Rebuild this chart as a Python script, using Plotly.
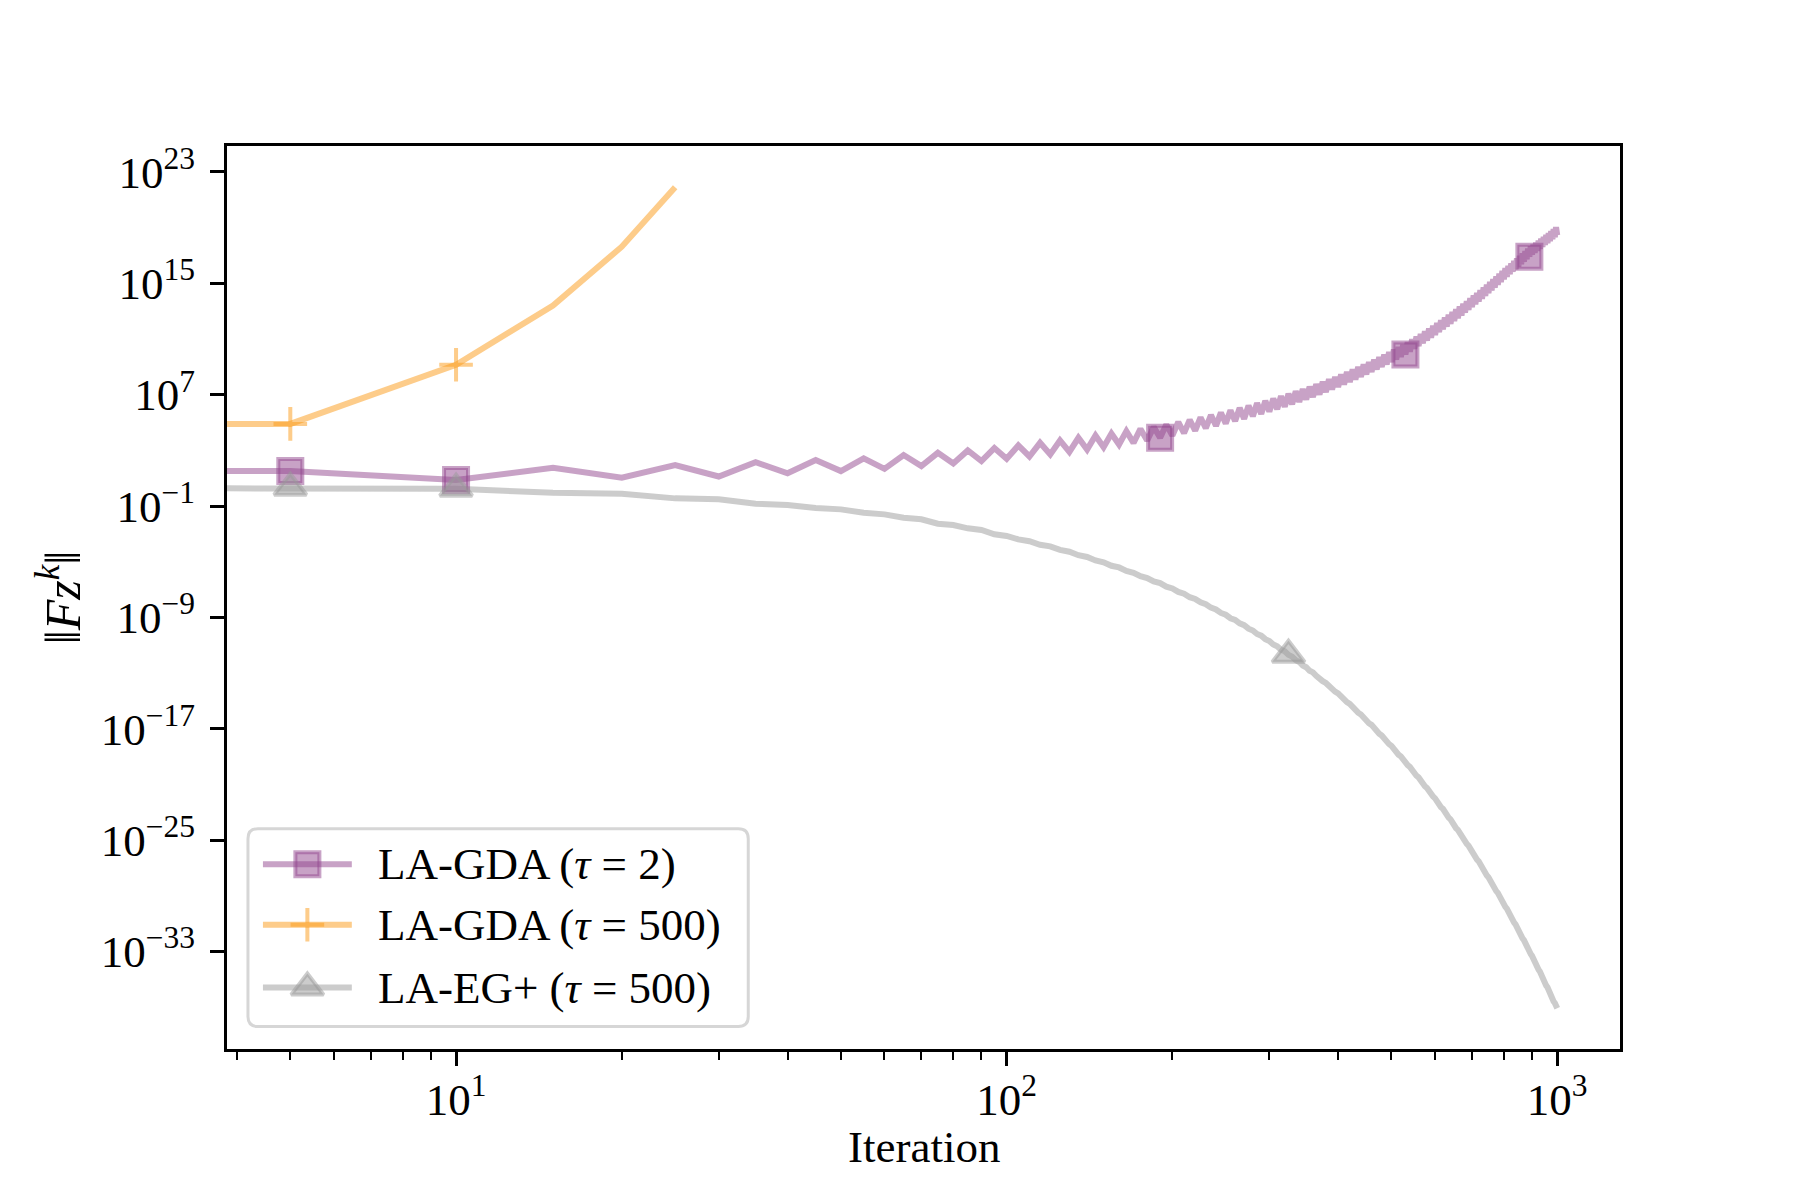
import numpy as np
import plotly.graph_objects as go

# iteration counter (every 5th iterate is logged)
iters = list(range(0, 1001, 5))

# log10 ||F z^k||
gda2_log = [
    1.51, 1.51, 0.87, 1.75, 1.03, 1.94, 1.12, 2.15, 1.35, 2.30,
    1.51, 2.42, 1.67, 2.66, 1.87, 2.82, 2.06, 2.99, 2.23, 3.16,
    2.39, 3.35, 2.56, 3.54, 2.71, 3.71, 2.89, 3.90, 3.06, 4.07,
    3.23, 4.21, 3.42, 4.38, 3.54, 4.54, 3.71, 4.68, 3.90, 4.85,
    4.07, 5.03, 4.24, 5.19, 4.41, 5.36, 4.59, 5.54, 4.76, 5.71,
    4.93, 5.87, 5.10, 6.04, 5.27, 6.21, 5.45, 6.39, 5.62, 6.56,
    5.79, 6.72, 5.96, 6.89, 6.13, 7.06, 6.31, 7.24, 6.48, 7.40,
    6.65, 7.57, 6.83, 7.75, 7.01, 7.93, 7.19, 8.10, 7.37, 8.28,
    7.55, 8.46, 7.73, 8.64, 7.91, 8.81, 8.09, 8.99, 8.27, 9.17,
    8.45, 9.34, 8.63, 9.52, 8.81, 9.70, 8.99, 9.88, 9.17, 10.05,
    9.35, 10.23, 9.53, 10.41, 9.71, 10.58, 9.89, 10.77, 10.09, 10.97,
    10.29, 11.17, 10.49, 11.36, 10.69, 11.56, 10.89, 11.76, 11.09, 11.95,
    11.29, 12.15, 11.49, 12.35, 11.69, 12.54, 11.89, 12.74, 12.09, 12.94,
    12.29, 13.13, 12.49, 13.33, 12.69, 13.53, 12.89, 13.72, 13.09, 13.92,
    13.29, 14.12, 13.49, 14.31, 13.69, 14.51, 13.89, 14.71, 14.09, 14.90,
    14.29, 15.10, 14.49, 15.30, 14.69, 15.49, 14.89, 15.69, 15.09, 15.89,
    15.29, 16.08, 15.47, 16.25, 15.65, 16.43, 15.83, 16.61, 16.01, 16.78,
    16.19, 16.96, 16.37, 17.14, 16.55, 17.31, 16.73, 17.49, 16.91, 17.65,
    17.05, 17.78, 17.19, 17.92, 17.33, 18.06, 17.47, 18.20, 17.61, 18.33,
    17.75, 18.47, 17.89, 18.61, 18.03, 18.75, 18.17, 18.89, 18.31, 19.03,
    18.45,
]

# tau=500 GDA blows up (overflow after iteration 25)
gda500_iters = [0, 5, 10, 15, 20, 25]
gda500_log = [4.90, 4.90, 9.15, 13.40, 17.63, 21.90]

eg500_log = [
    0.31, 0.31, 0.24, -0.05, -0.12, -0.45, -0.52, -0.83, -0.93, -1.14,
    -1.24, -1.48, -1.60, -1.84, -1.95, -2.27, -2.36, -2.60, -2.72, -3.03,
    -3.15, -3.40, -3.53, -3.78, -3.90, -4.15, -4.28, -4.53, -4.66, -4.91,
    -5.04, -5.29, -5.41, -5.66, -5.79, -6.04, -6.17, -6.42, -6.54, -6.79,
    -6.92, -7.17, -7.30, -7.55, -7.67, -7.92, -8.05, -8.30, -8.43, -8.68,
    -8.81, -9.06, -9.18, -9.43, -9.56, -9.81, -9.94, -10.19, -10.31, -10.56,
    -10.69, -10.94, -11.07, -11.32, -11.44, -11.69, -11.82, -12.07, -12.20, -12.45,
    -12.58, -12.83, -12.95, -13.20, -13.33, -13.58, -13.71, -13.96, -14.08, -14.33,
    -14.46, -14.71, -14.84, -15.09, -15.21, -15.46, -15.59, -15.84, -15.97, -16.22,
    -16.35, -16.60, -16.72, -16.97, -17.10, -17.35, -17.48, -17.73, -17.85, -18.10,
    -18.23, -18.48, -18.61, -18.86, -18.98, -19.23, -19.36, -19.61, -19.74, -19.99,
    -20.12, -20.37, -20.49, -20.74, -20.87, -21.12, -21.25, -21.50, -21.62, -21.87,
    -22.00, -22.25, -22.38, -22.63, -22.75, -23.00, -23.13, -23.38, -23.51, -23.76,
    -23.89, -24.14, -24.26, -24.51, -24.64, -24.89, -25.02, -25.27, -25.39, -25.64,
    -25.77, -26.02, -26.15, -26.40, -26.52, -26.77, -26.90, -27.15, -27.28, -27.53,
    -27.66, -27.91, -28.03, -28.28, -28.41, -28.66, -28.79, -29.04, -29.16, -29.41,
    -29.54, -29.79, -29.92, -30.17, -30.29, -30.54, -30.67, -30.92, -31.05, -31.30,
    -31.43, -31.68, -31.80, -32.05, -32.18, -32.43, -32.56, -32.81, -32.93, -33.18,
    -33.31, -33.56, -33.69, -33.94, -34.06, -34.31, -34.44, -34.69, -34.82, -35.07,
    -35.20, -35.45, -35.57, -35.82, -35.95, -36.20, -36.33, -36.58, -36.70, -36.95,
    -37.08,
]

# iterations where markers were drawn (markevery)
gda2_marks = [5, 10, 190, 530, 890]
gda500_marks = [5, 10]
eg500_marks = [5, 10, 325]

y_tick_exps = [-33, -25, -17, -9, -1, 7, 15, 23]
x_tick_exps = [1, 2, 3]

FONT = "Liberation Serif"
FS = 45

# axes box on the page (px): left, right, top, bottom
AX_L, AX_R, AX_T, AX_B = 225, 1620, 144, 1050


def px(X):
    return (X - AX_L) / (AX_R - AX_L)


def py(Y):
    return (AX_B - Y) / (AX_B - AX_T)


def xpos(its):
    # iteration 0 can't sit on a log axis; matplotlib clips it off the left edge
    return [1 if i == 0 else i for i in its]


series = [
    dict(name="LA-GDA (<i>τ</i> = 2)", its=iters, logs=gda2_log, marks=gda2_marks,
         rgb=(145, 69, 141), symbol="square", size=24),
    dict(name="LA-GDA (<i>τ</i> = 500)", its=gda500_iters, logs=gda500_log, marks=gda500_marks,
         rgb=(251, 153, 21), symbol="cross-thin", size=24),
    dict(name="LA-EG+ (<i>τ</i> = 500)", its=iters, logs=eg500_log, marks=eg500_marks,
         rgb=(153, 153, 153), symbol="triangle-up", size=28),
]

fig = go.Figure()

for s in series:
    c = "rgba(%d,%d,%d,0.5)" % s["rgb"]
    y = 10.0 ** np.array(s["logs"])
    fig.add_trace(go.Scatter(x=xpos(s["its"]), y=y, mode="lines",
                             line=dict(color=c, width=6), showlegend=False,
                             hoverinfo="skip"))

for s in series:
    c = "rgba(%d,%d,%d,0.5)" % s["rgb"]
    idx = [s["its"].index(m) for m in s["marks"]]
    my = [10.0 ** s["logs"][j] for j in idx]
    s["mk"] = dict(symbol=s["symbol"], size=s["size"], color=c, line=dict(color=c, width=4))
    fig.add_trace(go.Scatter(x=s["marks"], y=my, mode="markers", marker=s["mk"],
                             showlegend=False))

# hand-drawn legend (matplotlib style: rounded frame, long handles, full-size markers)
bx0, bx1, by0, by1 = px(246), px(747), py(1027.5), py(829)
rx, ry = 10 / (AX_R - AX_L), 10 / (AX_B - AX_T)
frame = ("M {a},{b} L {c},{b} Q {x1},{b0} {x1},{d} L {x1},{e} Q {x1},{b1} {c},{f} "
         "L {a},{f} Q {x0},{b1} {x0},{e} L {x0},{d} Q {x0},{b0} {a},{b} Z").format(
    a=bx0 + rx, b=by0, c=bx1 - rx, d=by0 + ry, e=by1 - ry, f=by1,
    x0=bx0, x1=bx1, b0=by0, b1=by1)
fig.add_shape(type="path", path=frame, xref="paper", yref="paper", layer="below",
              fillcolor="rgba(255,255,255,0.8)", line=dict(color="#d6d6d6", width=3))

row_y = [864.6, 925.3, 988.4]
for s, ry_px in zip(series, row_y):
    c = "rgba(%d,%d,%d,0.5)" % s["rgb"]
    yy = py(ry_px)
    fig.add_trace(go.Scatter(x=[px(261), px(350)], y=[yy, yy], mode="lines",
                             line=dict(color=c, width=6), xaxis="x2", yaxis="y2",
                             showlegend=False, hoverinfo="skip"))
    fig.add_trace(go.Scatter(x=[px(305.5)], y=[yy], mode="markers", marker=s["mk"],
                             xaxis="x2", yaxis="y2", showlegend=False, hoverinfo="skip"))
    fig.add_annotation(text=s["name"], xref="paper", yref="paper", x=px(374), y=yy,
                       xanchor="left", yanchor="middle", showarrow=False,
                       font=dict(family=FONT, size=FS, color="black"))

fig.update_xaxes(
    type="log", range=[0.584, 3.114],
    tickvals=[10 ** e for e in x_tick_exps],
    ticktext=["10<sup>%d</sup>" % e for e in x_tick_exps],
    minor=dict(ticks="outside", ticklen=8, tickwidth=2.4, tickcolor="black",
               tickvals=[m * 10 ** d for d in range(0, 4) for m in range(2, 10)]),
    ticks="outside", ticklen=14, tickwidth=3, tickcolor="black",
    ticklabelstandoff=-5,
    showline=True, linewidth=3, linecolor="black", mirror=True,
    showgrid=False, zeroline=False,
    tickfont=dict(family=FONT, size=FS, color="black"),
)
fig.update_yaxes(
    type="log", range=[-40.0, 24.86],
    tickvals=[10.0 ** e for e in y_tick_exps],
    ticktext=["10<sup>%s</sup>" % str(e).replace("-", "−") for e in y_tick_exps],
    ticks="outside", ticklen=14, tickwidth=3, tickcolor="black",
    ticklabelstandoff=6,
    showline=True, linewidth=3, linecolor="black", mirror=True,
    showgrid=False, zeroline=False,
    tickfont=dict(family=FONT, size=FS, color="black"),
)

fig.add_annotation(text="Iteration", xref="paper", yref="paper", x=0.5, y=-0.108,
                   xanchor="center", yanchor="middle", showarrow=False,
                   font=dict(family=FONT, size=FS, color="black"))
fig.add_annotation(text="‖<i>Fz</i><sup><i>k</i></sup>‖", xref="paper", yref="paper",
                   x=-0.12, y=0.5, textangle=-90, xanchor="center", yanchor="middle",
                   showarrow=False, font=dict(family=FONT, size=50, color="black"))

# page body adds a small offset, so margins are shifted to land the axes box at 225..1620 x 144..1050
fig.update_layout(
    width=1800, height=1200,
    margin=dict(l=219, r=188, t=138, b=159),
    paper_bgcolor="white", plot_bgcolor="white",
    font=dict(family=FONT, size=FS, color="black"),
    showlegend=False,
    xaxis2=dict(overlaying="x", anchor="y2", range=[0, 1], visible=False, fixedrange=True),
    yaxis2=dict(overlaying="y", anchor="x2", range=[0, 1], visible=False, fixedrange=True),
)

fig.write_html("out.html")
